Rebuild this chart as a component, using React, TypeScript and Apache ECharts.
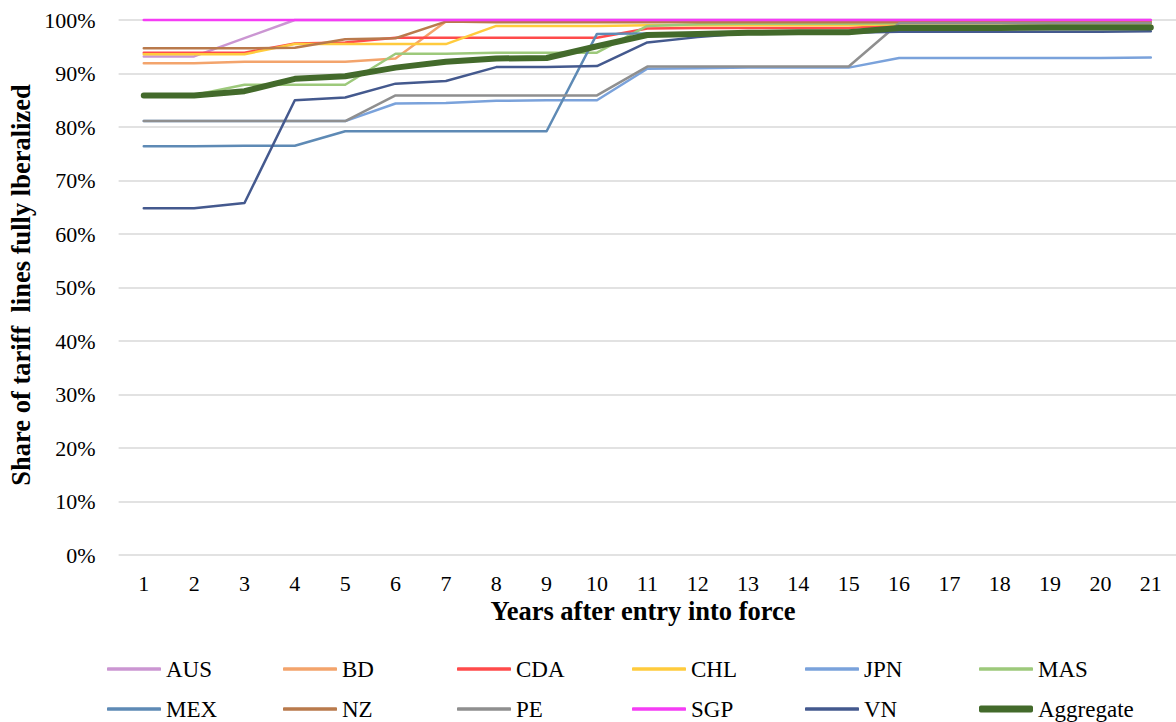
import React, { useEffect, useRef } from "react";
import * as echarts from "echarts";

const years = ["1","2","3","4","5","6","7","8","9","10","11","12","13","14","15","16","17","18","19","20","21"];

const AUS = [93.2, 93.2, 96.6, 100, 100, 100, 100, 100, 100, 100, 100, 100, 100, 100, 100, 100, 100, 100, 100, 100, 100];
const BD = [91.9, 91.9, 92.2, 92.2, 92.2, 92.8, 99.7, 99.7, 99.7, 99.7, 99.7, 99.7, 99.7, 99.7, 99.7, 99.7, 99.7, 99.7, 99.7, 99.7, 99.7];
const CDA = [93.9, 93.9, 93.9, 95.6, 95.8, 96.7, 96.7, 96.7, 96.7, 96.7, 98.4, 98.5, 98.5, 98.5, 98.5, 99.0, 99.0, 99.0, 99.0, 99.0, 99.0];
const CHL = [93.6, 93.6, 93.6, 95.5, 95.5, 95.5, 95.5, 98.9, 98.9, 98.9, 99.0, 99.0, 99.0, 99.0, 99.0, 99.2, 99.2, 99.2, 99.2, 99.2, 99.2];
const JPN = [81.1, 81.1, 81.1, 81.1, 81.1, 84.4, 84.5, 84.9, 85.0, 85.0, 90.9, 91.0, 91.1, 91.1, 91.1, 92.9, 92.9, 92.9, 92.9, 92.9, 93.0];
const MAS = [86.0, 86.0, 87.9, 87.9, 87.9, 93.7, 93.7, 93.9, 93.9, 93.9, 98.9, 99.2, 99.3, 99.3, 99.3, 99.4, 99.4, 99.4, 99.4, 99.4, 99.4];
const MEX = [76.4, 76.4, 76.5, 76.5, 79.2, 79.2, 79.2, 79.2, 79.2, 97.4, 97.5, 97.5, 97.6, 97.6, 97.6, 98.4, 98.4, 98.4, 98.4, 98.4, 98.4];
const NZ = [94.7, 94.7, 94.7, 94.8, 96.4, 96.6, 99.7, 99.6, 99.6, 99.6, 99.6, 99.6, 99.6, 99.6, 99.6, 99.6, 99.6, 99.6, 99.6, 99.6, 99.6];
const PE = [81.1, 81.1, 81.1, 81.1, 81.1, 85.9, 85.9, 85.9, 85.9, 85.9, 91.3, 91.3, 91.3, 91.3, 91.3, 99.4, 99.4, 99.4, 99.4, 99.4, 99.4];
const SGP = [100, 100, 100, 100, 100, 100, 100, 100, 100, 100, 100, 100, 100, 100, 100, 100, 100, 100, 100, 100, 100];
const VN = [64.8, 64.8, 65.8, 85.0, 85.5, 88.1, 88.6, 91.2, 91.2, 91.4, 95.8, 96.8, 97.5, 97.6, 97.6, 97.8, 97.8, 97.8, 97.8, 97.8, 97.9];
const Aggregate = [85.9, 85.9, 86.7, 89.0, 89.5, 91.1, 92.2, 92.8, 92.9, 95.1, 97.2, 97.4, 97.6, 97.7, 97.7, 98.5, 98.5, 98.5, 98.6, 98.6, 98.6];

const yTicks = [0, 10, 20, 30, 40, 50, 60, 70, 80, 90, 100];

const seriesDefs = [
  { name: "AUS", data: AUS, color: "#CB96D2", width: 2.5 },
  { name: "BD", data: BD, color: "#F3A46C", width: 2.5 },
  { name: "CDA", data: CDA, color: "#FF4B4B", width: 2.5 },
  { name: "CHL", data: CHL, color: "#FFCB3D", width: 2.5 },
  { name: "JPN", data: JPN, color: "#7AA2DB", width: 2.5 },
  { name: "MAS", data: MAS, color: "#9DC97B", width: 2.5 },
  { name: "MEX", data: MEX, color: "#5E8AB5", width: 2.5 },
  { name: "NZ", data: NZ, color: "#B97A4C", width: 2.5 },
  { name: "PE", data: PE, color: "#8F8F8F", width: 2.5 },
  { name: "SGP", data: SGP, color: "#F53DF5", width: 2.5 },
  { name: "VN", data: VN, color: "#44598E", width: 2.5 },
  { name: "Aggregate", data: Aggregate, color: "#436A2B", width: 6 },
];

const FONT = '"Liberation Serif", "Times New Roman", serif';

export default function App() {
  const ref = useRef<HTMLDivElement>(null);
  useEffect(() => {
    if (!ref.current) return;
    const chart = echarts.init(ref.current, undefined, { renderer: "svg" });
    const colLeft = [107, 283, 457, 632, 805, 979];
    const rowCenter = [669, 709];
    const legends = seriesDefs.map((s, i) => ({
      data: [{ name: s.name, icon: "roundRect", itemStyle: { color: s.color } }],
      left: colLeft[i % 6],
      top: rowCenter[Math.floor(i / 6)] - 12,
      itemWidth: 54,
      itemHeight: s.width > 3 ? 7 : 3.5,
      itemGap: 0,
      padding: 0,
      selectedMode: false,
      textStyle: { fontFamily: FONT, fontSize: 23, color: "#000", lineHeight: 24, padding: [0, 0, 0, 0] },
    }));
    chart.setOption({
      animation: false,
      backgroundColor: "#fff",
      grid: { left: 118.6, right: -9.4, top: 20, bottom: 167, containLabel: false },
      legend: legends,
      xAxis: {
        type: "category",
        data: years,
        boundaryGap: true,
        axisLine: { show: false },
        axisTick: { show: false },
        axisLabel: { fontFamily: FONT, fontSize: 22, color: "#000", margin: 17, interval: 0 },
        splitLine: { show: false },
      },
      yAxis: {
        type: "value",
        min: yTicks[0],
        max: yTicks[yTicks.length - 1],
        interval: 10,
        axisLine: { show: false },
        axisTick: { show: false },
        axisLabel: { fontFamily: FONT, fontSize: 22, color: "#000", margin: 23, formatter: "{value}%" },
        splitLine: { lineStyle: { color: "#D9D9D9", width: 1.5 } },
      },
      graphic: [
        {
          type: "text",
          x: 643,
          y: 611,
          style: {
            text: "Years after entry into force",
            font: `bold 26.5px ${FONT}`,
            fill: "#000",
            textAlign: "center",
            textVerticalAlign: "middle",
          },
        },
        {
          type: "text",
          x: 21,
          y: 285,
          rotation: Math.PI / 2,
          style: {
            text: "Share of tariff  lines fully lberalized",
            font: `bold 26.5px ${FONT}`,
            fill: "#000",
            textAlign: "center",
            textVerticalAlign: "middle",
          },
        },
      ],
      series: seriesDefs.map((s) => ({
        name: s.name,
        type: "line",
        data: s.data,
        symbol: "none",
        clip: false,
        lineStyle: { color: s.color, width: s.width, cap: "round", join: "round" },
        itemStyle: { color: s.color },
      })),
    });
    return () => chart.dispose();
  }, []);
  return <div ref={ref} style={{ position: "fixed", left: 0, top: 0, width: 1176, height: 722 }} />;
}
